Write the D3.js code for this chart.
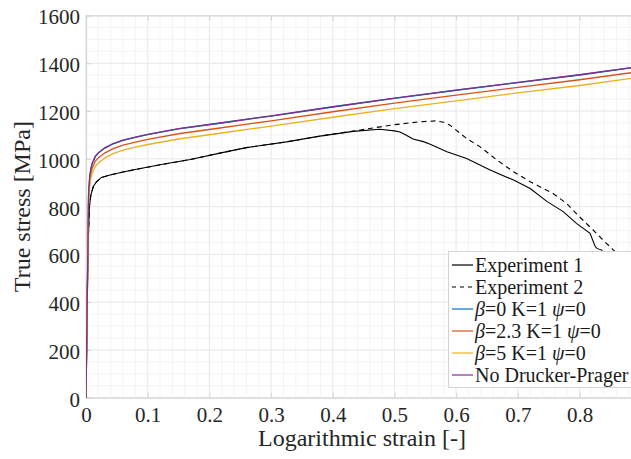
<!DOCTYPE html>
<html lang="en">
  <head>
    <meta charset="UTF-8" />
    <title>True stress vs logarithmic strain</title>
    <script src="https://cdnjs.cloudflare.com/ajax/libs/d3/7.8.5/d3.min.js"></script>
    <style>
      body {
        margin: 0;
        background: #fff;
      }
    </style>
  </head>
  <body>
    <div id="chart"></div>
    <script>
      // data: [strain, stress MPa]
      const exp1 = [
        [0, 0], [0.003, 600], [0.0055, 800], [0.008, 850], [0.012, 885],
        [0.017, 904], [0.025, 922], [0.039, 932], [0.06, 945], [0.082, 956],
        [0.12, 975], [0.169, 997], [0.217, 1024], [0.26, 1047], [0.325, 1071],
        [0.379, 1095], [0.433, 1115], [0.476, 1124], [0.5, 1117], [0.509, 1112],
        [0.52, 1098], [0.53, 1083], [0.547, 1072], [0.557, 1062], [0.585, 1030],
        [0.617, 1001], [0.655, 953], [0.693, 911], [0.72, 876], [0.747, 822],
        [0.774, 778], [0.795, 730], [0.817, 688], [0.825, 635], [0.828, 625],
        [0.836, 618], [0.838, 605], [0.85, 560]
      ];
      const exp2 = [
        [0, 0], [0.003, 600], [0.0055, 800], [0.008, 850], [0.012, 885],
        [0.017, 904], [0.025, 922], [0.039, 932], [0.06, 945], [0.082, 956],
        [0.12, 975], [0.169, 997], [0.217, 1024], [0.26, 1047], [0.325, 1071],
        [0.379, 1095], [0.433, 1116], [0.47, 1131], [0.5, 1143], [0.541, 1155],
        [0.568, 1159], [0.58, 1153], [0.59, 1141], [0.617, 1085], [0.639, 1050],
        [0.666, 995], [0.693, 946], [0.72, 904], [0.757, 855], [0.779, 813],
        [0.8, 757], [0.822, 702], [0.838, 660], [0.855, 618], [0.875, 570]
      ];
      const simStrain = [
        0, 0.0042, 0.006, 0.008, 0.01, 0.015, 0.02, 0.03, 0.044, 0.06, 0.08,
        0.1, 0.15, 0.217, 0.3, 0.4, 0.5, 0.6, 0.7, 0.8, 0.885
      ];
      const beta0 = [
        0, 849, 924, 959, 980, 1009, 1024, 1044, 1063, 1077, 1090,
        1101, 1125, 1149, 1179, 1217, 1253, 1287, 1319, 1351, 1381
      ];
      const beta23 = [
        0, 840, 905, 940, 961, 990, 1004, 1024, 1043, 1057, 1070,
        1081, 1105, 1129, 1159, 1197, 1233, 1267, 1299, 1331, 1361
      ];
      const beta5 = [
        0, 830, 885, 920, 940, 968, 982, 1003, 1022, 1036, 1049,
        1060, 1083, 1107, 1137, 1174, 1210, 1243, 1276, 1307, 1337
      ];
      const noDP = [
        0, 850, 925, 960, 981, 1010, 1025, 1045, 1064, 1078, 1091,
        1102, 1126, 1150, 1180, 1218, 1254, 1288, 1320, 1352, 1382
      ];
      const xTicks = [0, 0.1, 0.2, 0.3, 0.4, 0.5, 0.6, 0.7, 0.8];
      const yTicks = [0, 200, 400, 600, 800, 1000, 1200, 1400, 1600];

      const width = 631;
      const height = 459;
      const serif = "Liberation Serif, Times New Roman, serif";

      const svg = d3
        .select("#chart")
        .append("svg")
        .attr("width", width)
        .attr("height", height)
        .attr("font-family", serif);

      const x = d3.scaleLinear().domain([0, 0.885]).range([86, 632]);
      const y = d3.scaleLinear().domain([0, 1600]).range([397.7, 15.5]);

      // grid (minor then major)
      const grid = svg.append("g");
      grid
        .selectAll(".xminor")
        .data(d3.range(0, 0.9, 0.02))
        .enter()
        .append("line")
        .attr("x1", (d) => x(d))
        .attr("x2", (d) => x(d))
        .attr("y1", y(0))
        .attr("y2", y(1600))
        .attr("stroke", "#f4f4f4");
      grid
        .selectAll(".yminor")
        .data(d3.range(0, 1601, 50))
        .enter()
        .append("line")
        .attr("x1", x(0))
        .attr("x2", width)
        .attr("y1", (d) => y(d))
        .attr("y2", (d) => y(d))
        .attr("stroke", "#f4f4f4");
      grid
        .selectAll(".xmajor")
        .data(xTicks)
        .enter()
        .append("line")
        .attr("x1", (d) => x(d))
        .attr("x2", (d) => x(d))
        .attr("y1", y(0))
        .attr("y2", y(1600))
        .attr("stroke", "#ebebeb");
      grid
        .selectAll(".ymajor")
        .data(yTicks)
        .enter()
        .append("line")
        .attr("x1", x(0))
        .attr("x2", width)
        .attr("y1", (d) => y(d))
        .attr("y2", (d) => y(d))
        .attr("stroke", "#ebebeb");

      // axes: inward ticks, light grey box
      const axisColor = "#d4d4d4";
      const xAxis = svg
        .append("g")
        .attr("transform", `translate(0,${y(0)})`)
        .call(d3.axisBottom(x).tickValues(xTicks).tickSize(-5).tickPadding(9.5).tickFormat(d3.format("")));
      const xTop = svg
        .append("g")
        .attr("transform", `translate(0,${y(1600)})`)
        .call(d3.axisTop(x).tickValues(xTicks).tickSize(-5).tickFormat(""));
      const yAxis = svg
        .append("g")
        .attr("transform", `translate(${x(0)},0)`)
        .call(d3.axisLeft(y).tickValues(yTicks).tickSize(-5).tickPadding(6).tickFormat(d3.format("d")));
      [xAxis, xTop, yAxis].forEach((g) => {
        g.attr("font-family", serif).attr("font-size", 21);
        g.select(".domain").attr("stroke", axisColor).attr("stroke-width", 1.2);
        g.selectAll(".tick line").attr("stroke", axisColor);
        g.selectAll(".tick text").attr("fill", "#262626");
      });
      yAxis.selectAll(".tick text").attr("dy", "0.4em");

      svg
        .append("text")
        .attr("x", 362)
        .attr("y", 446)
        .attr("text-anchor", "middle")
        .attr("font-size", 24)
        .attr("fill", "#262626")
        .text("Logarithmic strain [-]");
      svg
        .append("text")
        .attr("transform", `translate(30,${(y(0) + y(1600)) / 2}) rotate(-90)`)
        .attr("text-anchor", "middle")
        .attr("font-size", 24)
        .attr("fill", "#262626")
        .text("True stress [MPa]");

      // curves
      svg
        .append("clipPath")
        .attr("id", "plot-clip")
        .append("rect")
        .attr("x", x(0))
        .attr("y", y(1600))
        .attr("width", width - x(0))
        .attr("height", y(0) - y(1600));
      const plot = svg.append("g").attr("clip-path", "url(#plot-clip)");
      const line = d3
        .line()
        .x((d) => x(d[0]))
        .y((d) => y(d[1]));
      const sims = [
        { values: beta0, color: "#0072BD" },
        { values: beta23, color: "#D95319" },
        { values: beta5, color: "#EDB120" },
        { values: noDP, color: "#7E2F8E" }
      ];
      plot
        .append("path")
        .attr("d", line(exp1))
        .attr("fill", "none")
        .attr("stroke", "#000")
        .attr("stroke-width", 1.1);
      plot
        .append("path")
        .attr("d", line(exp2))
        .attr("fill", "none")
        .attr("stroke", "#000")
        .attr("stroke-width", 1.1)
        .attr("stroke-dasharray", "5,4");
      sims.forEach((s) => {
        plot
          .append("path")
          .attr("d", line(s.values.map((v, i) => [simStrain[i], v])))
          .attr("fill", "none")
          .attr("stroke", s.color)
          .attr("stroke-width", 1.3);
      });

      // legend
      const legendItems = [
        { parts: [["Experiment 1", false]], color: "#000", dash: null },
        { parts: [["Experiment 2", false]], color: "#000", dash: "4,4" },
        { parts: [["β", true], ["=0 K=1 ", false], ["ψ", true], ["=0", false]], color: "#0072BD", dash: null },
        { parts: [["β", true], ["=2.3 K=1 ", false], ["ψ", true], ["=0", false]], color: "#D95319", dash: null },
        { parts: [["β", true], ["=5 K=1 ", false], ["ψ", true], ["=0", false]], color: "#EDB120", dash: null },
        { parts: [["No Drucker-Prager", false]], color: "#7E2F8E", dash: null }
      ];
      const legend = svg.append("g");
      legend
        .append("rect")
        .attr("x", 448.5)
        .attr("y", 251.5)
        .attr("width", 200)
        .attr("height", 136)
        .attr("fill", "#fff")
        .attr("stroke", "#d4d4d4");
      const rows = legend
        .selectAll(".row")
        .data(legendItems)
        .enter()
        .append("g")
        .attr("transform", (d, i) => `translate(0,${265 + i * 22})`);
      rows
        .append("line")
        .attr("x1", 452)
        .attr("x2", 473)
        .attr("stroke", (d) => d.color)
        .attr("stroke-width", 1.2)
        .attr("stroke-dasharray", (d) => d.dash);
      rows
        .append("text")
        .attr("x", 475)
        .attr("y", 7)
        .attr("font-size", 20)
        .attr("font-family", serif)
        .attr("fill", "#1a1a1a")
        .each(function (d) {
          const t = d3.select(this);
          d.parts.forEach(([str, it]) => {
            t.append("tspan")
              .attr("font-style", it ? "italic" : "normal")
              .text(str);
          });
        });
    </script>
  </body>
</html>
